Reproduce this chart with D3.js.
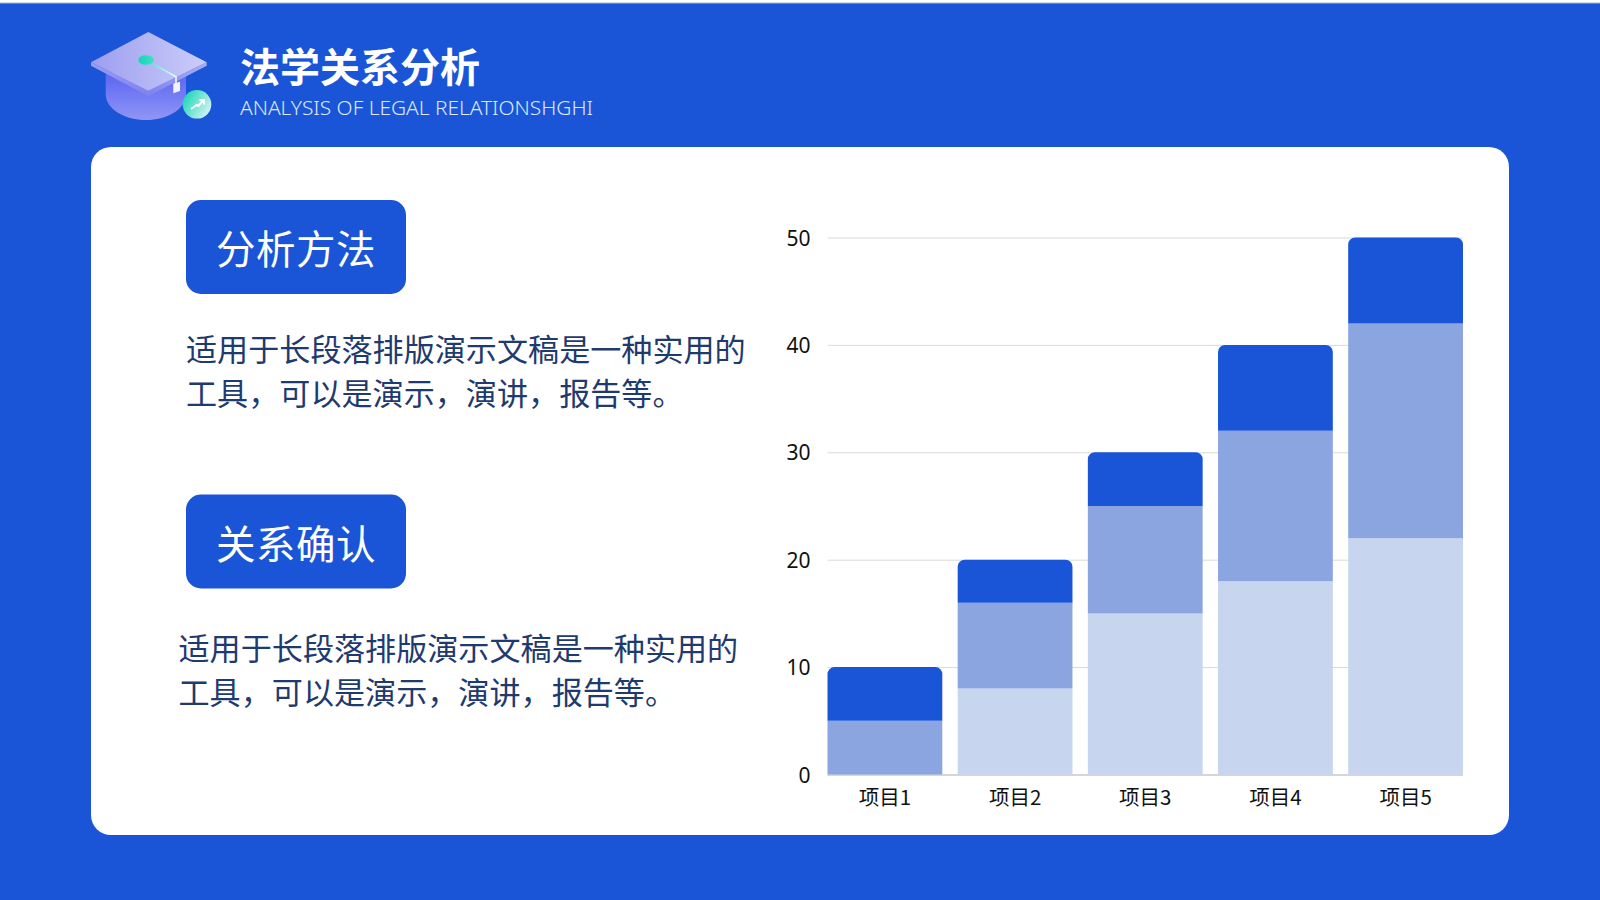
<!DOCTYPE html>
<html lang="zh">
<head>
<meta charset="utf-8">
<script src="https://cdn.jsdelivr.net/npm/d3@7/dist/d3.min.js"></script>
<style>
html,body{margin:0;padding:0;background:#fff;overflow:hidden}
svg{display:block}
text{font-family:"Noto Sans CJK SC","Noto Sans",sans-serif}
</style>
</head>
<body>
<svg id="c" width="1600" height="900"></svg>
<script>
const categories = ["项目1","项目2","项目3","项目4","项目5"];
const seriesLight = [0,8,15,18,22];
const seriesMid = [5,8,10,14,20];
const seriesDark = [5,4,5,8,8];
const yTicks = [0,10,20,30,40,50];
const seriesColors = ["#c7d5ee","#8ba5e0","#1a55d7"];
const titleText = "法学关系分析";
const subtitleText = "ANALYSIS OF LEGAL RELATIONSHGHI";
const headings = ["分析方法","关系确认"];
const bodyLines = ["适用于长段落排版演示文稿是一种实用的","工具，可以是演示，演讲，报告等。"];

const BLUE = "#1a55d7";
const svg = d3.select("#c");
const defs = svg.append("defs");
function grad(id,x1,y1,x2,y2,stops){
  const g = defs.append("linearGradient").attr("id",id).attr("x1",x1).attr("y1",y1).attr("x2",x2).attr("y2",y2);
  stops.forEach(s=>g.append("stop").attr("offset",s[0]).attr("stop-color",s[1]));
}
grad("gTop",0,0.5,1,0.5,[[0,"#9d9ef0"],[1,"#cbcdf9"]]);
grad("gEdge",0,0,1,0,[[0,"#9a9bf2"],[0.5,"#7f84f0"],[1,"#a9abf5"]]);
grad("gBody",0,0,0,1,[[0,"#5a64f2"],[1,"#9095f6"]]);
grad("gDisc",0,0.2,1,0.8,[[0,"#12d6b4"],[1,"#dff4f6"]]);
grad("gDot",0,0,1,0,[[0,"#12d6b4"],[1,"#3fe0c8"]]);
grad("gStr",0,0,1,0,[[0,"#3fe0c8"],[1,"#eafafa"]]);

// page
svg.append("rect").attr("width",1600).attr("height",900).attr("fill","#fff");
svg.append("rect").attr("y",3).attr("width",1600).attr("height",897).attr("fill",BLUE);
svg.append("rect").attr("y",2.5).attr("width",1600).attr("height",1).attr("fill","#9db4ea");
svg.append("rect").attr("x",91).attr("y",147).attr("width",1418).attr("height",688).attr("rx",20).attr("fill","#fff");

// icon
const ic = svg.append("g");
ic.append("path").attr("d","M105.7,72 V94 C105.7,110 126,120 146,120 C166,120 186,110 186,94 V72 Z").attr("fill","url(#gBody)");
ic.append("path").attr("d","M91,62.3 L148.3,90.7 L206.7,62.3 V65.7 L148.3,96 L91,65.7 Z").attr("fill","url(#gEdge)");
ic.append("path").attr("d","M148.3,32 L206.7,62.3 L148.3,90.7 L91,62.3 Z").attr("fill","url(#gTop)");
ic.append("path").attr("d","M146,60 L176,76.7 V84").attr("fill","none").attr("stroke","url(#gStr)").attr("stroke-width",1.6);
ic.append("ellipse").attr("cx",146).attr("cy",60).attr("rx",7.7).attr("ry",4.8).attr("fill","url(#gDot)");
ic.append("path").attr("d","M173.3,83.5 L180,81.7 V91 L173.3,93.3 Z").attr("fill","#f1f2fb");
ic.append("circle").attr("cx",197).attr("cy",104.3).attr("r",14.3).attr("fill","url(#gDisc)");
ic.append("path").attr("d","M191,109 L196.7,105 L198.3,106 L203.3,100.3 M199.5,100 H204 V104.5").attr("fill","none").attr("stroke","#fff").attr("stroke-width",2);

// header text
svg.append("text").attr("x",240).attr("y",81.5).attr("font-size",40).attr("font-weight",700).attr("fill","#fff").text(titleText);
svg.append("text").attr("x",240).attr("y",115).attr("font-size",20).attr("fill","#dfe8fa")
  .style("font-family","'Noto Sans','Noto Sans CJK SC',sans-serif").style("font-weight",300)
  .attr("textLength",353).attr("lengthAdjust","spacingAndGlyphs").text(subtitleText);

// left column
[[200,186,350],[494.5,178.5,649]].forEach((cfg,i)=>{
  const y=cfg[0];
  svg.append("rect").attr("x",186).attr("y",y).attr("width",220).attr("height",94).attr("rx",15).attr("fill",BLUE);
  svg.append("text").attr("x",296).attr("y",y+64).attr("text-anchor","middle").attr("font-size",39.5).attr("font-weight",400).attr("letter-spacing",0.5).attr("fill","#fff").text(headings[i]);
  bodyLines.forEach((t,j)=>{
    svg.append("text").attr("x",cfg[1]).attr("y",cfg[2]+j*44+11).attr("font-size",31.1).attr("font-weight",400).attr("fill","#1f3a6e").text(t);
  });
});

// chart
const x = d3.scaleBand().domain(categories).range([827.5,1463]).paddingInner(0.118).paddingOuter(0);
const y = d3.scaleLinear().domain([0,50]).range([774.5,237.5]);
const plot = svg.append("g");
const yAxis = d3.axisLeft(y).tickValues(yTicks).tickSize(-(1463-827.5)).tickPadding(17).tickFormat(d3.format("d"));
const gy = plot.append("g").attr("transform","translate(827.5,0)").call(yAxis);
gy.select(".domain").remove();
gy.selectAll(".tick line").attr("stroke",d=>d===0?"#a9adb8":"#d9d9d9");
gy.selectAll("text").attr("font-size",21).attr("dy","0.36em").attr("fill","#111").style("font-family","'Noto Sans','Noto Sans CJK SC',sans-serif");

const rows = categories.map((c,i)=>({c,vals:[seriesLight[i],seriesMid[i],seriesDark[i]]}));
const r = 7;
rows.forEach(row=>{
  let base=0;
  row.vals.forEach((v,k)=>{
    if(v>0){
      const top=base+v, x0=x(row.c), x1=x0+x.bandwidth(), y0=y(base), y1=y(top);
      const p=d3.path();
      if(k===2){
        p.moveTo(x0,y0); p.lineTo(x0,y1+r); p.arcTo(x0,y1,x0+r,y1,r); p.lineTo(x1-r,y1); p.arcTo(x1,y1,x1,y1+r,r); p.lineTo(x1,y0); p.closePath();
      } else { p.rect(x0,y1,x.bandwidth(),y0-y1); }
      plot.append("path").attr("d",p.toString()).attr("fill",seriesColors[k]);
    }
    base+=v;
  });
});

const xAxis = d3.axisBottom(x).tickSize(0).tickPadding(16);
const gx = plot.append("g").attr("transform","translate(0,774.5)").call(xAxis);
gx.select(".domain").remove();
gx.selectAll("text").attr("font-size",20.5).attr("fill","#111");
</script>
</body>
</html>
